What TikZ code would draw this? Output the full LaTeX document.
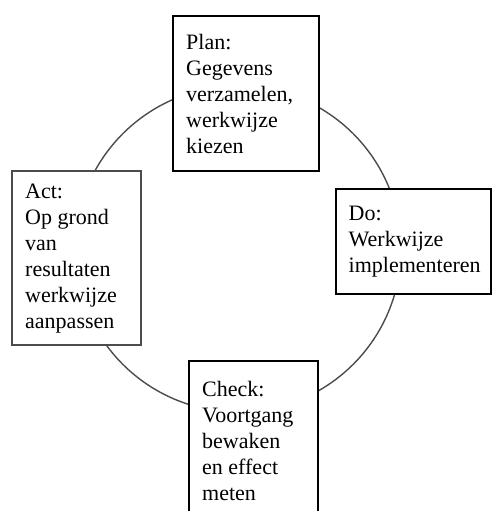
\documentclass[tikz,border=0pt]{standalone}
\usepackage{fontspec}
\setmainfont{Liberation Serif}
\usetikzlibrary{positioning}

\begin{document}
\begin{tikzpicture}[x=0.5pt, y=-0.5pt,
    phase/.style={draw, line width=1.2pt, fill=white, anchor=north west,
        align=flush left, inner xsep=6.5pt, inner ysep=0pt,
        font=\fontsize{11}{13}\selectfont}]
    \useasboundingbox (0,0) rectangle (493,511);
    % the cycle behind the boxes
    \draw[black!70, line width=0.7pt] (238,249) circle[radius=81.5pt];

    % Plan (top)
    \node[phase, minimum width=73pt, minimum height=77.5pt, text width=60pt] (plan) at (172,15)
        {Plan:\\Gegevens\\verzamelen,\\werkwijze\\kiezen};
    % Do (right)
    \node[phase, minimum width=77.5pt, minimum height=52.5pt, text width=65pt, inner xsep=6pt] (do) at (335,188)
        {Do:\\Werkwijze\\implementeren};
    % Check (bottom), runs off the page
    \node[phase, minimum width=64.5pt, minimum height=80pt, text width=51.5pt] (check) at (188,360)
        {Check:\\Voortgang\\bewaken\\en effect\\meten};
    % Act (left)
    \node[phase, draw=black!70, minimum width=64.5pt, minimum height=87pt, text width=51.5pt] (act) at (11,170)
        {Act:\\Op grond\\van\\resultaten\\werkwijze\\aanpassen};
\end{tikzpicture}
\end{document}
